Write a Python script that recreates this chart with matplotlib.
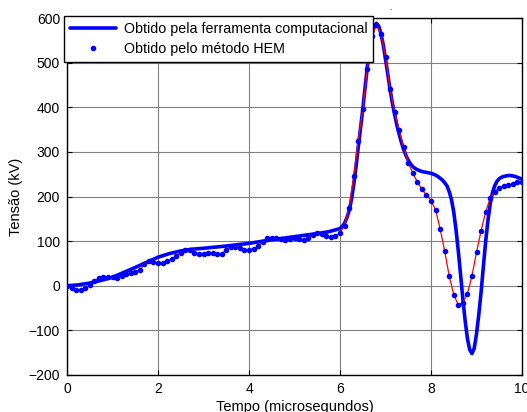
import numpy as np
import matplotlib
matplotlib.use("Agg")
import matplotlib.pyplot as plt

# ---------- dados ----------
# resposta da ferramenta computacional (linha azul)
t_ferr_ini = [0.0, 0.25, 0.5, 0.75, 1.0, 1.5, 2.0, 2.25, 2.5, 2.75, 3.0,
              3.5, 4.0, 4.5, 5.0, 5.5, 5.75]
v_ferr_ini = [0, 2, 6, 12, 19, 41, 64, 72, 78, 82, 84,
              89, 95, 103, 110, 117, 121]
# trecho de 6 a 10 us, passo de 0.05 us
t_ferr_fim = np.round(6.0 + np.arange(81) * 0.05, 2)
v_ferr_fim = [128, 133, 140, 152, 168, 192, 225, 265, 310, 352,
              395, 443, 490, 530, 562, 582, 588, 582, 565, 540,
              508, 474, 440, 410, 384, 360, 340, 321, 305, 292,
              281, 273, 267, 263, 260, 258, 256, 255, 254, 253,
              252, 250, 248, 245, 241, 237, 231, 224, 211, 193,
              165, 125, 78, 25, -30, -78, -118, -143, -152, -140,
              -108, -65, -15, 42, 98, 145, 183, 208, 224, 234,
              240, 243, 245, 246, 247, 247, 246, 245, 243, 241, 239]
t_ferr = np.concatenate([t_ferr_ini, t_ferr_fim])
v_ferr = np.concatenate([v_ferr_ini, v_ferr_fim])

# resposta pelo metodo HEM (pontos a cada 0.1 us)
t_hem = np.round(np.arange(0, 101) * 0.1, 1)
v_hem = [0, -5, -10, -10, -6, 2, 10, 18, 20, 20,
         19, 18, 22, 27, 29, 30, 35, 48, 56, 54,
         50, 52, 56, 59, 66, 74, 80, 79, 74, 71,
         72, 74, 73, 71, 72, 80, 86, 87, 84, 80,
         79, 82, 88, 98, 106, 108, 107, 104, 103, 105,
         107, 105, 103, 106, 113, 118, 116, 111, 109, 111,
         118, 135, 175, 245, 325, 395, 485, 560, 584, 565,
         513, 440, 390, 348, 310, 276, 252, 233, 216, 204,
         191, 170, 128, 78, 22, -20, -43, -38, -18, 22,
         75, 123, 165, 196, 210, 220, 224, 226, 229, 232, 233]

# ---------- grafico ----------
plt.rcParams["font.family"] = ["Liberation Sans", "DejaVu Sans"]
plt.rcParams["font.size"] = 10

fig = plt.figure(figsize=(5.27, 4.12), dpi=100)
ax = fig.add_axes([67 / 527, 37 / 412, 455 / 527, 357 / 412])

ax.plot(t_ferr, v_ferr, color="#0000ff", lw=2.6,
        label="Obtido pela ferramenta computacional", zorder=3,
        solid_capstyle="round", solid_joinstyle="round")
ax.plot(t_hem, v_hem, color="red", lw=0.9, zorder=4)
ax.plot(t_hem, v_hem, ls="none", marker="o", ms=3.0, color="#0000ff",
        mec="#0000ff", label="Obtido pelo método HEM", zorder=5)

ax.set_xlim(0, 10)
ax.set_ylim(-200, 600)
ax.set_xticks(range(0, 11, 2))
ax.set_yticks(range(-200, 601, 100))
ax.grid(True, color="#808080", lw=0.8)
ax.tick_params(direction="in", top=True, right=True, length=3.5, width=0.8,
               labelsize=10, pad=5)
for s in ax.spines.values():
    s.set_linewidth(1.0)

ax.set_xlabel("Tempo (microsegundos)", fontsize=10.5, labelpad=3)
ax.set_ylabel("Tensão (kV)", fontsize=10.5, labelpad=4)

leg = ax.legend(loc="upper left", bbox_to_anchor=(64 / 527, 1 - 16 / 412),
                bbox_transform=fig.transFigure, fancybox=False, framealpha=1,
                edgecolor="black", handlelength=3.2, borderpad=0.4,
                labelspacing=0.45, handletextpad=0.6, borderaxespad=0,
                fontsize=10.3)
leg.get_frame().set_linewidth(1.0)

fig.text(390 / 527, 1 - 9 / 412, ".", fontsize=6, ha="center", va="center")

fig.savefig("out.png", dpi=100)
